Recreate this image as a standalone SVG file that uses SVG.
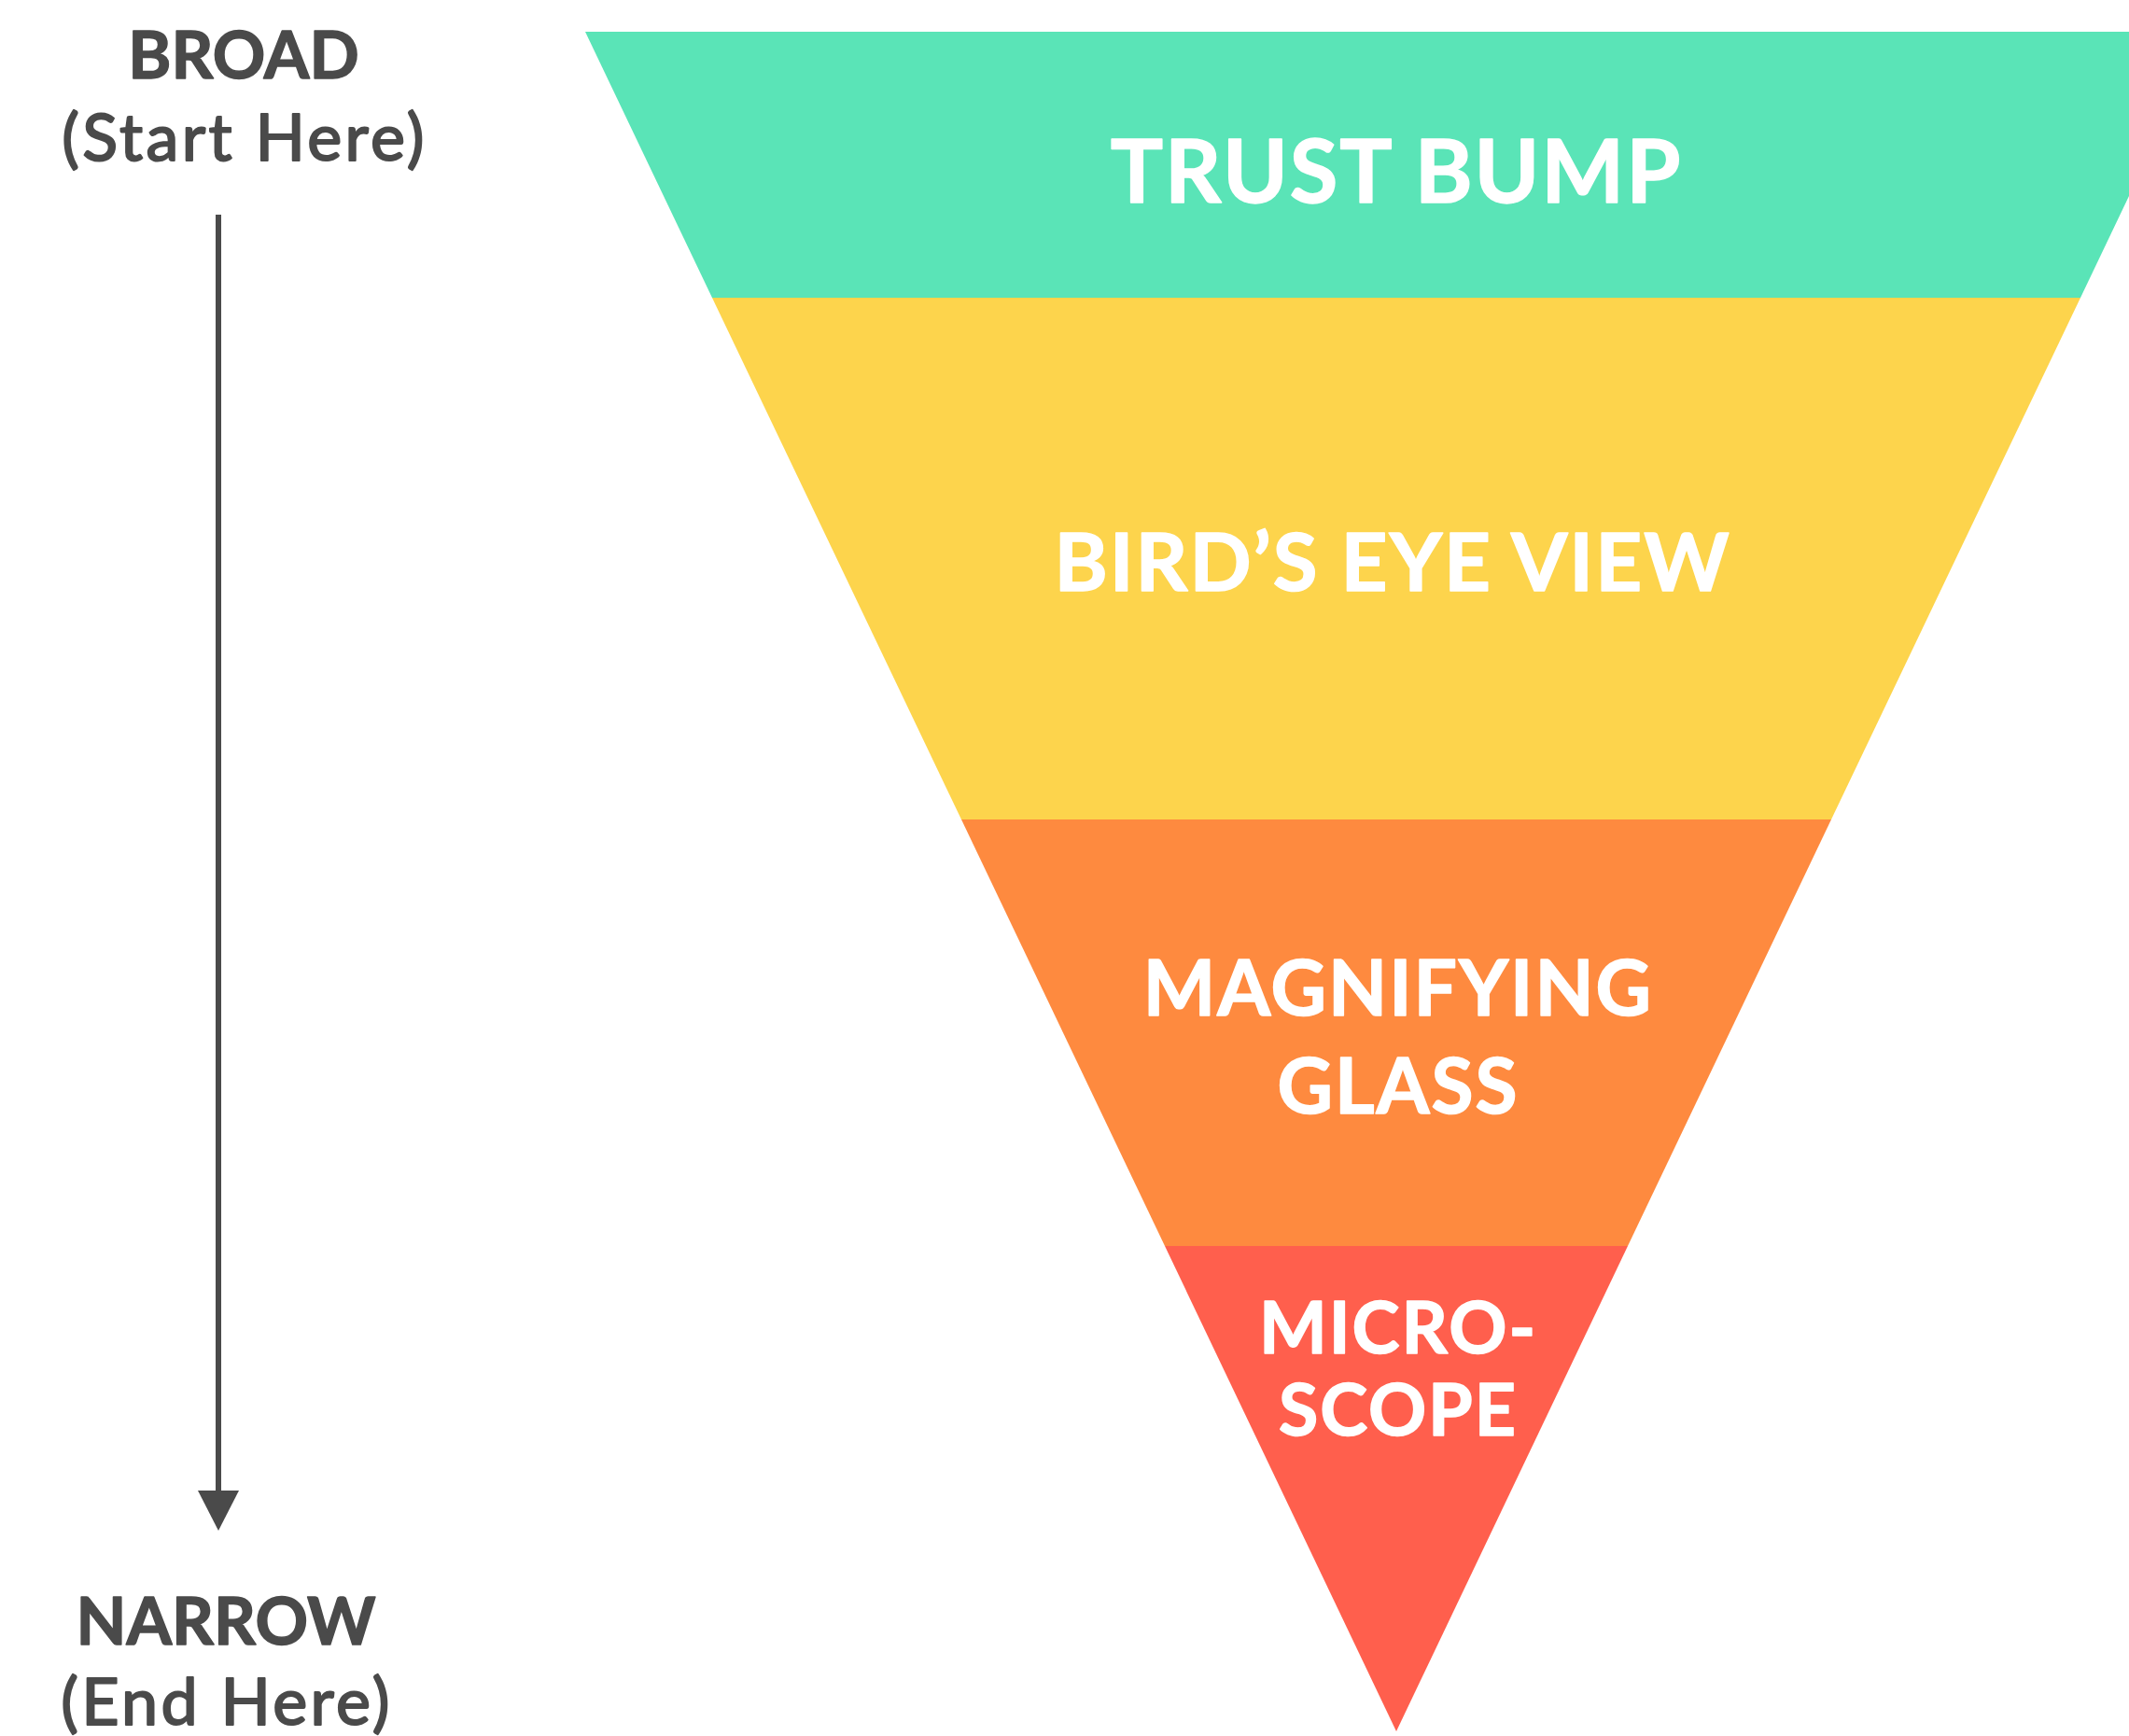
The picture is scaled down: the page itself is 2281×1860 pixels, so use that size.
<svg xmlns="http://www.w3.org/2000/svg" width="2281" height="1860" viewBox="0 0 2281 1860">
<style>
.band-label{font-family:Lato,"Liberation Sans",sans-serif;font-weight:700;fill:#ffffff;stroke:#ffffff;stroke-width:1.5;stroke-linejoin:round;text-anchor:middle;letter-spacing:2px}
.side-b{font-family:Lato,"Liberation Sans",sans-serif;font-weight:700;fill:#4a4a4a;stroke:#4a4a4a;stroke-width:1.5;stroke-linejoin:round;text-anchor:middle;font-size:70px}
.side-r{font-family:Lato,"Liberation Sans",sans-serif;font-weight:400;fill:#4a4a4a;stroke:#4a4a4a;stroke-width:2;stroke-linejoin:round;text-anchor:middle;font-size:70px;letter-spacing:3.4px}
</style>
<rect width="2281" height="1860" fill="#ffffff"/>
<g id="trust-bump">
<polygon points="627,34 2365,34 2229,319 763,319" fill="#5AE4B7"/>
<text class="band-label" x="1496" y="217" font-size="94">TRUST BUMP</text>
</g>
<g id="birds-eye-view">
<polygon points="763,319 2229,319 1962,878 1030,878" fill="#FDD44C"/>
<text class="band-label" x="1492" y="633" font-size="87">BIRD’S EYE VIEW</text>
</g>
<g id="magnifying-glass">
<polygon points="1030,878 1962,878 1744,1335 1248,1335" fill="#FE8A3F"/>
<text class="band-label" x="1498" y="1088" font-size="82">MAGNIFYING</text>
<text class="band-label" x="1498" y="1193" font-size="82">GLASS</text>
</g>
<g id="microscope">
<polygon points="1248,1335 1744,1335 1496,1855" fill="#FF5F4D"/>
<text class="band-label" x="1498" y="1450" font-size="77">MICRO-</text>
<text class="band-label" x="1498" y="1538" font-size="77">SCOPE</text>
</g>
<g id="broad">
<text class="side-b" x="261" y="84">BROAD</text>
<text class="side-r" x="262" y="172">(Start Here)</text>
</g>
<g id="narrow">
<text class="side-b" x="242" y="1762">NARROW</text>
<text class="side-r" x="243" y="1848">(End Here)</text>
</g>
<g id="connectors">
<line x1="234" y1="230" x2="234" y2="1600" stroke="#4a4a4a" stroke-width="6"/>
<polygon points="212,1597 256,1597 234,1640" fill="#4a4a4a"/>
</g>
</svg>
